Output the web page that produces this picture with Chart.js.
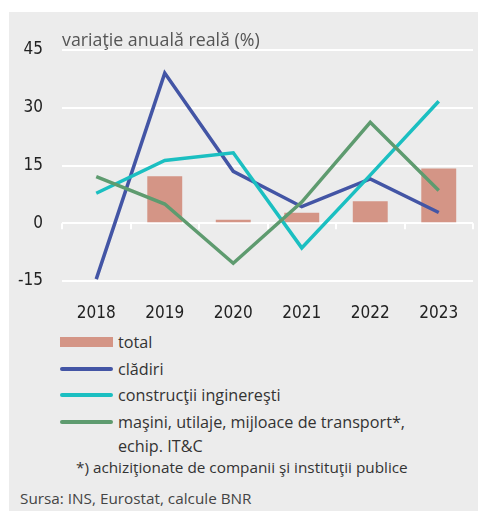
<!DOCTYPE html>
<html>
<head>
<meta charset="utf-8">
<script src="https://cdn.jsdelivr.net/npm/chart.js@4"></script>
<style>
  body { margin: 0; background: #fff; width: 478px; height: 511px; position: relative; overflow: hidden; }
  #panel { position: absolute; left: 9px; top: 12px; right: 0; bottom: 0; background: #ececec; }
  #chart { position: absolute; left: 0; top: 0; }
  .txt { position: absolute; font-family: "Open Sans", sans-serif; color: #333; white-space: nowrap; }
  #title { left: 62px; top: 27px; font-size: 17.8px; color: #555; }
  #legend { position: absolute; left: 60px; top: 330px; font-family: "Open Sans", sans-serif; font-size: 16.2px; color: #333; }
  .row { display: flex; align-items: flex-start; height: 26.5px; line-height: 24px; }
  .sw { width: 53px; margin-right: 5px; flex: none; }
  .bar { height: 10px; margin-top: 7px; }
  .line { height: 4px; border-radius: 2px; margin-top: 10px; }
  #note { left: 76px; top: 457px; font-size: 15.3px; }
  #src { left: 20px; top: 488px; font-size: 15.3px; color: #444; }
</style>
</head>
<body>
<div id="panel"></div>
<canvas id="chart" width="478" height="330"></canvas>
<div class="txt" id="title">variaţie anuală reală (%)</div>
<div id="legend"></div>
<div class="txt" id="note">*) achiziţionate de companii şi instituţii publice</div>
<div class="txt" id="src">Sursa: INS, Eurostat, calcule BNR</div>
<script>
const years = ["2018", "2019", "2020", "2021", "2022", "2023"];
const total = [null, 12.2, 0.9, 2.7, 5.7, 14.2];
const cladiri = [-14.5, 39.0, 13.5, 4.3, 11.5, 2.8];
const constructii = [7.8, 16.3, 18.3, -6.4, 12.5, 31.7];
const masini = [12.1, 5.0, -10.4, 5.5, 26.2, 8.5];
const yTicks = [-15, 0, 15, 30, 45];

const colors = {
    total: "#d49586",
    cladiri: "#4355a5",
    constructii: "#1bbfc1",
    masini: "#5e9b6f"
};

// small white ticks along the zero line, between categories
const zeroTicks = {
    id: "zeroTicks",
    beforeDatasetsDraw(chart) {
        const x = chart.scales.x, y = chart.scales.y, ctx = chart.ctx;
        const y0 = y.getPixelForValue(0);
        ctx.save();
        ctx.strokeStyle = "#ffffff";
        ctx.lineWidth = 2;
        for (let i = 0; i <= years.length; i++) {
            const px = Math.round(x.getPixelForValue(i - 0.5));
            ctx.beginPath();
            ctx.moveTo(px, y0);
            ctx.lineTo(px, y0 + 6);
            ctx.stroke();
        }
        ctx.restore();
    }
};

new Chart(document.getElementById("chart"), {
    data: {
        labels: years,
        datasets: [
            { type: "bar", label: "total", data: total, backgroundColor: colors.total,
              categoryPercentage: 1, barPercentage: 0.51, order: 4 },
            { type: "line", label: "clădiri", data: cladiri, borderColor: colors.cladiri,
              borderWidth: 3.5, pointRadius: 0, tension: 0, order: 3 },
            { type: "line", label: "construcţii inginereşti", data: constructii, borderColor: colors.constructii,
              borderWidth: 3.5, pointRadius: 0, tension: 0, order: 2 },
            { type: "line", label: "maşini, utilaje, mijloace de transport*, echip. IT&C", data: masini,
              borderColor: colors.masini, borderWidth: 3.5, pointRadius: 0, tension: 0, order: 1 }
        ]
    },
    options: {
        responsive: false,
        devicePixelRatio: 1,
        animation: false,
        layout: { padding: { left: 0, right: 5, top: 50, bottom: 0 } },
        plugins: { legend: { display: false }, tooltip: { enabled: false } },
        scales: {
            x: {
                grid: { display: false },
                border: { display: false },
                ticks: { color: "#222", padding: 14, font: { family: "Liberation Sans Narrow, DejaVu Sans Condensed, sans-serif", size: 17 } },
                afterFit(scale) { scale.height = 49; }
            },
            y: {
                min: yTicks[0],
                max: yTicks[yTicks.length - 1],
                afterBuildTicks(scale) { scale.ticks = yTicks.map(v => ({ value: v })); },
                grid: { color: "#ffffff", lineWidth: 2, drawTicks: false },
                border: { display: false },
                ticks: { color: "#222", padding: 19, font: { family: "Liberation Sans Narrow, DejaVu Sans Condensed, sans-serif", size: 17 } },
                afterFit(scale) { scale.width = 62; }
            }
        }
    },
    plugins: [zeroTicks]
});

// legend
const legendItems = [
    { kind: "bar", color: colors.total, text: "total" },
    { kind: "line", color: colors.cladiri, text: "clădiri" },
    { kind: "line", color: colors.constructii, text: "construcţii inginereşti" },
    { kind: "line", color: colors.masini, text: "maşini, utilaje, mijloace de transport*,<br>echip. IT&amp;C" }
];
const legend = document.getElementById("legend");
legendItems.forEach(it => {
    const row = document.createElement("div");
    row.className = "row";
    row.innerHTML = '<div class="sw ' + it.kind + '" style="background:' + it.color + '"></div><div>' + it.text + '</div>';
    legend.appendChild(row);
});
</script>
</body>
</html>
